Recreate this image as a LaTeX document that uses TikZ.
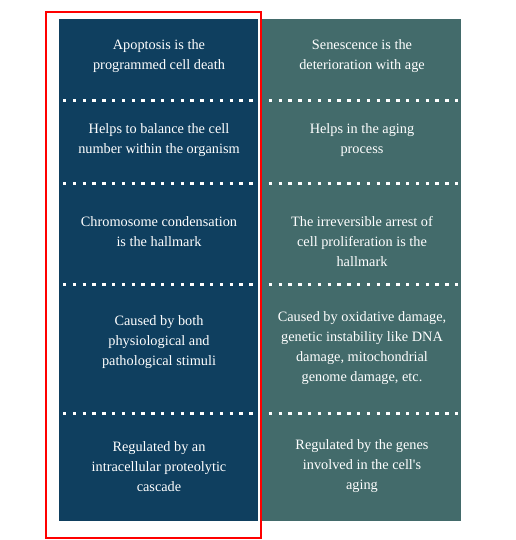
\documentclass[tikz,border=0pt]{standalone}
\usepackage{fontspec}
\setmainfont{Liberation Serif}
\usepackage{tikz}
\usetikzlibrary{positioning}

\definecolor{apoblue}{HTML}{0F3F5F}
\definecolor{senteal}{HTML}{436B6B}

\begin{document}
\begin{tikzpicture}[x=1pt, y=-1pt,
		column/.style = {inner sep=0pt, minimum width=199pt, minimum height=502pt, anchor=north west},
		celltext/.style = {text=white, align=center, inner sep=0pt, font=\fontsize{14.3}{20}\selectfont},
		dotrule/.style = {white, line width=3.3pt, dash pattern=on 3.3pt off 6.5pt},
		redframe/.style = {red, line width=2pt}]
	\useasboundingbox (0,0) rectangle (515,540);
	% the two columns
	\node[column, fill=apoblue] (apo) at (59,19) {};
	\node[column, fill=senteal, minimum width=199pt] (sen) at (262,19) {};
	% separators
	\foreach \y in {100.5, 183.3, 284.3, 413.3}
		\draw[dotrule] ([xshift=4pt]apo.west |- 0,\y) -- (sen.east |- 0,\y);
	% apoptosis
	\node[celltext] (apoA) at (159,56.5) {Apoptosis is the\\programmed cell death};
	\node[celltext] (apoB) at (159,140.3) {Helps to balance the cell\\number within the organism};
	\node[celltext] (apoC) at (159,231.5) {Chromosome condensation\\is the hallmark};
	\node[celltext] (apoD) at (159,342) {Caused by both\\physiological and\\pathological stimuli};
	\node[celltext] (apoE) at (159,466.5) {Regulated by an\\intracellular proteolytic\\cascade};
	% senescence
	\node[celltext] (senA) at (362,56.5) {Senescence is the\\deterioration with age};
	\node[celltext] (senB) at (362,140.3) {Helps in the aging\\process};
	\node[celltext] (senC) at (362,241.5) {The irreversible arrest of\\cell proliferation is the\\hallmark};
	\node[celltext] (senD) at (362,348.5) {Caused by oxidative damage,\\genetic instability like DNA\\damage, mitochondrial\\genome damage, etc.};
	\node[celltext] (senE) at (362,466.5) {Regulated by the genes\\involved in the cell\textquotesingle s\\aging};
	% highlight
	\draw[redframe] (46,11.7) rectangle (261.3,538.2);
\end{tikzpicture}
\end{document}
